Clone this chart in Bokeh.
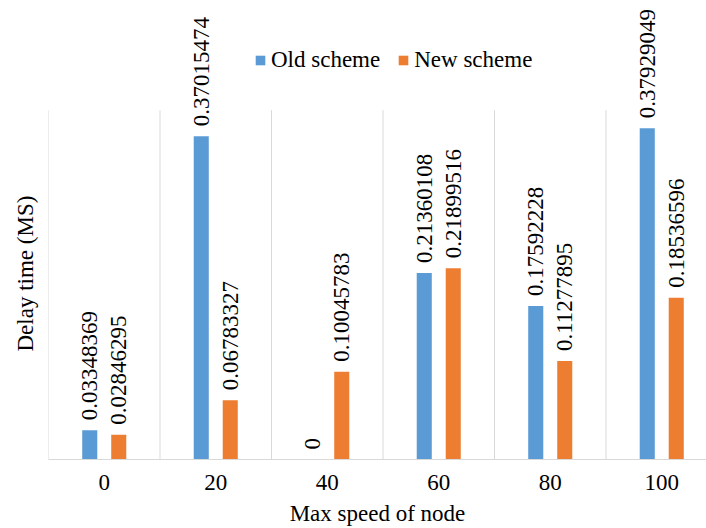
from math import pi
from bokeh.plotting import figure
from bokeh.models import ColumnDataSource, FixedTicker, Range1d, Legend, LegendItem, Title
from bokeh.core.properties import value
from bokeh.embed import file_html
from bokeh.resources import INLINE

categories = ["0", "20", "40", "60", "80", "100"]
old_scheme = [0.03348369, 0.37015474, 0.0, 0.21360108, 0.17592228, 0.37929049]
new_scheme = [0.02846295, 0.06783327, 0.10045783, 0.21899516, 0.11277895, 0.18536596]
old_labels = ["0.03348369", "0.37015474", "0", "0.21360108", "0.17592228", "0.37929049"]
new_labels = ["0.02846295", "0.06783327", "0.10045783", "0.21899516", "0.11277895", "0.18536596"]
y_max = 0.4

FNAME = "Liberation Serif"
FONT = value(FNAME)
FS = "23px"
BLUE = "#5B9BD5"
ORANGE = "#ED7D31"
GRID = "#D9D9D9"

W, H = 706, 528
left, bottom = 48, 68
frame_w = W - left
frame_h = H - bottom
cat_px = 111.5
frame_top_px = 110  # pixels from figure top to y_max

centers = [i + 0.5 for i in range(len(categories))]
off = 0.13
bw = 0.135

src = ColumnDataSource(dict(
    xo=[c - off for c in centers], xn=[c + off for c in centers],
    old=old_scheme, new=new_scheme, ol=old_labels, nl=new_labels,
))

p = figure(width=W, height=H, output_backend="svg", toolbar_location=None,
           x_range=Range1d(0, frame_w / cat_px),
           y_range=Range1d(0, y_max * frame_h / (frame_h - frame_top_px)),
           min_border_left=left, min_border_right=0, min_border_top=0,
           min_border_bottom=bottom)
p.outline_line_color = None
p.background_fill_color = "white"
p.ygrid.visible = False
p.xgrid.visible = False
p.yaxis.visible = False

bounds = list(range(len(categories)))
p.segment(x0=bounds, y0=[0] * len(bounds), x1=bounds, y1=[y_max] * len(bounds),
          line_color=GRID, line_width=1)

r_old = p.vbar(x="xo", top="old", width=bw, source=src, fill_color=BLUE, line_color=None)
r_new = p.vbar(x="xn", top="new", width=bw, source=src, fill_color=ORANGE, line_color=None)

for xcol, ycol, tcol in (("xo", "old", "ol"), ("xn", "new", "nl")):
    p.text(x=xcol, y=ycol, text=tcol, source=src, angle=pi / 2,
           text_align="left", text_baseline="middle", y_offset=-10,
           text_font=FONT, text_font_size=FS, text_color="black")

# x axis
p.xaxis.ticker = FixedTicker(ticks=centers)
p.xaxis.major_label_overrides = {c: lab for c, lab in zip(centers, categories)}
p.xaxis.axis_label = "Max speed of node"
p.xaxis.axis_line_color = GRID
p.xaxis.major_tick_line_color = None
p.xaxis.minor_tick_line_color = None
p.xaxis.major_tick_out = 0
p.xaxis.major_tick_in = 0
p.xaxis.major_label_standoff = 15
p.xaxis.axis_label_standoff = 8
p.xaxis.major_label_text_font = FNAME
p.xaxis.major_label_text_font_size = FS
p.xaxis.major_label_text_color = "black"
p.xaxis.axis_label_text_font = FNAME
p.xaxis.axis_label_text_font_size = FS
p.xaxis.axis_label_text_font_style = "normal"
p.xaxis.axis_label_text_color = "black"

# y axis title
ytitle = Title(text="Delay time (MS)", align="left", vertical_align="bottom",
               offset=108, standoff=21, text_font=FNAME, text_font_size=FS,
               text_font_style="normal", text_color="black")
p.add_layout(ytitle, "left")

legend = Legend(items=[LegendItem(label="Old scheme", renderers=[r_old]),
                       LegendItem(label="New scheme", renderers=[r_new])],
                location=(206, 386), orientation="horizontal")
legend.border_line_color = None
legend.background_fill_alpha = 0
legend.padding = 0
legend.margin = 0
legend.spacing = 17
legend.glyph_width = 12
legend.glyph_height = 12
legend.label_standoff = 5
legend.label_height = 24
legend.label_text_font = FNAME
legend.label_text_font_size = FS
legend.label_text_color = "black"
legend.label_text_baseline = "middle"
p.add_layout(legend)

open("out.html", "w").write(file_html(p, INLINE))
